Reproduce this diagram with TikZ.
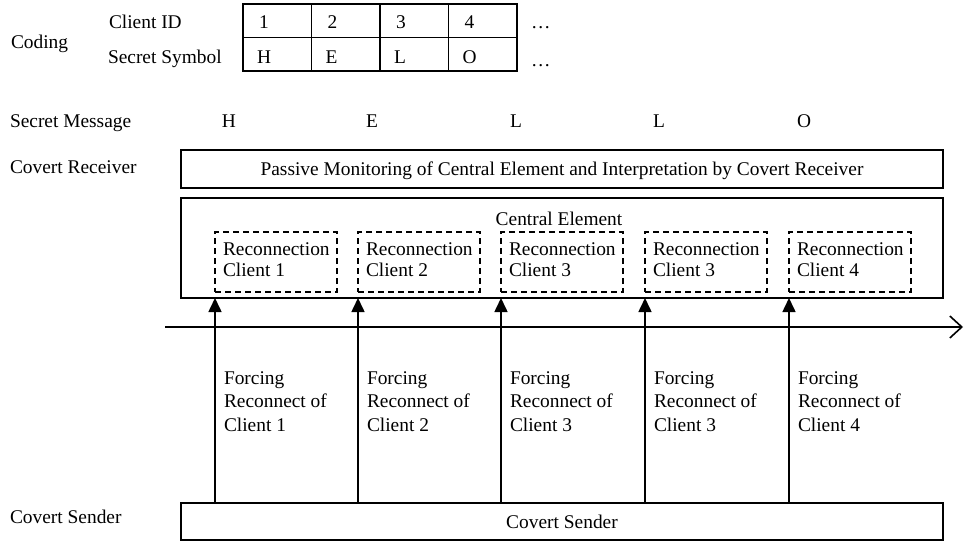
\documentclass[tikz,border=0pt]{standalone}
\usepackage{fontspec}
\setmainfont{Liberation Serif}
\usetikzlibrary{arrows.meta}
\begin{document}
\begin{tikzpicture}[x=1pt,y=-1pt,
  every node/.style={font=\fontsize{19.4}{23.5}\selectfont, inner sep=0pt, outer sep=0pt},
  lbl/.style={anchor=base west},
  ctr/.style={anchor=base},
  cell/.style={draw, line width=1.4pt, anchor=north west, minimum width=68.5pt, minimum height=33.5pt},
  bigbox/.style={draw, line width=1.6pt, anchor=north west, minimum width=762pt, text height=13pt, text depth=0pt},
  dbox/.style={draw, dashed, dash pattern=on 6pt off 4pt, line width=1.4pt, anchor=north west, minimum width=122pt, minimum height=60pt},
  force/.style={line width=1.6pt, -{Triangle[length=14pt,width=13pt]}},
  axis/.style={line width=1.6pt, -{Straight Barb[length=12pt,width=22pt,line width=1.6pt]}}
]
\useasboundingbox (0,0) rectangle (964,542);

% Coding table
\node[lbl] (coding) at (11,48) {Coding};
\node[lbl] (cid) at (109,28) {Client ID};
\node[lbl] (ssym) at (108,63) {Secret Symbol};
\foreach \i/\x/\a/\b in {1/243/1/H, 2/311.5/2/E, 3/380/3/L, 4/448.5/4/O} {
  \node[cell] (ida\i) at (\x,4) {};
  \node[cell] (sya\i) at (\x,37.5) {};
  \node[lbl] (idt\i) at (\x+16,28) {\a};
  \node[lbl] (syt\i) at (\x+14,63) {\b};
}
\node[lbl] (dots1) at (531,28) {\ldots};
\node[lbl] (dots2) at (531,66) {\ldots};

% Secret message
\node[lbl] (smsg) at (10,127) {Secret Message};
\node[ctr] (m1) at (229,127) {H};
\node[ctr] (m2) at (372,127) {E};
\node[ctr] (m3) at (516,127) {L};
\node[ctr] (m4) at (659,127) {L};
\node[ctr] (m5) at (804,127) {O};

% Receiver
\node[lbl] (crl) at (10,173) {Covert Receiver};
\node[bigbox, minimum height=38pt] (recv) at (181,150) {Passive Monitoring of Central Element and Interpretation by Covert Receiver};

% Central element
\node[bigbox, minimum height=100pt] (central) at (181,198) {};
\node[ctr] (cetext) at (559,225) {Central Element};
\foreach \i/\x/\c in {1/215/1, 2/358/2, 3/501/3, 4/645/3, 5/789/4} {
  \node[dbox] (rc\i) at (\x,232) {};
  \node[lbl] (rct\i) at (\x+8,255) {Reconnection};
  \node[lbl] (rcc\i) at (\x+8,276) {Client \c};
}

% Time axis
\coordinate (ax0) at (165,327);
\coordinate (ax1) at (963,327);
\draw[axis] (ax0) -- (ax1);

% Sender
\node[lbl] (csl) at (10,523) {Covert Sender};
\node[bigbox, minimum height=37pt] (sender) at (181,503) {Covert Sender};

% Forcing arrows
\foreach \i/\c in {1/1, 2/2, 3/3, 4/3, 5/4} {
  \draw[force] (rc\i.west |- sender.north) -- (rc\i.west |- central.south);
  \path (rc\i.west |- sender.north) ++(9,-119) node[lbl] (f\i) {Forcing};
  \path (rc\i.west |- sender.north) ++(9,-95.5) node[lbl] (g\i) {Reconnect of};
  \path (rc\i.west |- sender.north) ++(9,-72) node[lbl] (h\i) {Client \c};
}
\end{tikzpicture}
\end{document}
